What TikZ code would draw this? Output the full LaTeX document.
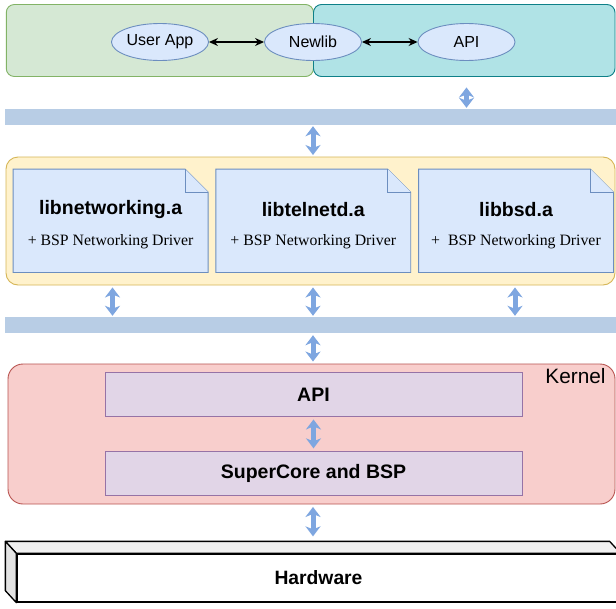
\documentclass[tikz,border=0pt]{standalone}
\usepackage{fontspec}
\setmainfont{Liberation Sans}
\newfontfamily\drvfont{Liberation Serif}
\usetikzlibrary{arrows.meta,shapes.geometric}
\definecolor{grfill}{HTML}{D5E8D4}
\definecolor{grline}{HTML}{82B366}
\definecolor{tlfill}{HTML}{B0E3E6}
\definecolor{tlline}{HTML}{0E8088}
\definecolor{bfill}{HTML}{DAE8FC}
\definecolor{bline}{HTML}{6C8EBF}
\definecolor{barfill}{HTML}{B8CDE5}
\definecolor{arrcol}{HTML}{7EA6E0}
\definecolor{yfill}{HTML}{FFF2CC}
\definecolor{yline}{HTML}{D6B656}
\definecolor{rfill}{HTML}{F8CECC}
\definecolor{rline}{HTML}{B85450}
\definecolor{pfill}{HTML}{E1D5E7}
\definecolor{pline}{HTML}{9673A6}
\tikzset{
  groupbox/.style={draw, rounded corners=8pt, line width=0.9pt, inner sep=0pt},
  ell/.style={ellipse, draw=bline, fill=bfill, line width=0.9pt, minimum width=97pt, minimum height=37pt, inner sep=0pt, font=\fontsize{16}{18}\selectfont},
  blk/.style={{Stealth[length=9pt,width=8pt]}-{Stealth[length=9pt,width=8pt]}, line width=1.1pt, black},
  bararrow/.style={{Stealth[length=10pt,width=15pt,inset=3pt]}-{Stealth[length=10pt,width=15pt,inset=3pt]}, line width=5pt, arrcol},
  busbar/.style={fill=barfill, draw=none, inner sep=0pt, minimum width=616pt},
  notebody/.style={inner sep=0pt, minimum width=194.5pt, minimum height=103pt},
  notepath/.style={draw=bline, fill=bfill, line width=0.9pt},
  libtxt/.style={font=\bfseries\fontsize{19.5}{23}\selectfont, inner sep=0pt},
  drvtxt/.style={font=\drvfont\fontsize{15.8}{18}\selectfont, inner sep=0pt},
  kbox/.style={draw=pline, fill=pfill, line width=0.9pt, minimum width=417pt, minimum height=44pt, inner sep=0pt, font=\bfseries\fontsize{19.5}{23}\selectfont},
}
\begin{document}
\begin{tikzpicture}[x=1pt,y=-1pt]
\clip (0,0) rectangle (616,608);
\fill[white] (0,0) rectangle (616,608);

% top group boxes
\node[groupbox, draw=grline, fill=grfill, minimum width=307.2pt, minimum height=72pt] (gbox) at (159.9,40.5) {};
\node[groupbox, draw=tlline, fill=tlfill, minimum width=301.5pt, minimum height=72pt] (tbox) at (464.25,40.5) {};

\node[ell] (uapp) at (160,42) {User App};
\node[ell] (newlib) at (313,42) {Newlib};
\node[ell] (api) at (466.5,42) {API};
\draw[blk] (uapp) -- (newlib);
\draw[blk] (newlib) -- (api);

% bus bars
\node[busbar, minimum height=15.5pt] (bar1) at (313,116.75) {};
\node[busbar, minimum height=16pt] (bar2) at (313,325) {};

\draw[bararrow] ([yshift=-10.5pt]tbox.south -| api) -- ([yshift=1pt]bar1.north -| api);

% library group
\node[groupbox, draw=yline, fill=yfill, rounded corners=12pt, minimum width=609pt, minimum height=128pt] (ybox) at (310.5,221) {};
\draw[bararrow] ([yshift=-1.5pt]bar1.south -| newlib) -- ([yshift=1.5pt]ybox.north -| newlib);

\foreach \nm/\cx/\lib/\drv in {n1/110.6/libnetworking.a/{+ BSP Networking Driver},
                                n2/313.25/libtelnetd.a/{+ BSP Networking Driver},
                                n3/516/libbsd.a/{+\ \ BSP Networking Driver}}{
  \node[notebody] (\nm) at (\cx,220.8) {};
  \draw[notepath] (\nm.north west) -- ([xshift=-23pt]\nm.north east) -- ([yshift=-23pt]\nm.north east) -- (\nm.south east) -- (\nm.south west) -- cycle;
  \draw[notepath] ([xshift=-23pt]\nm.north east) -- ([xshift=-23pt,yshift=-23pt]\nm.north east) -- ([yshift=-23pt]\nm.north east);
  \node[libtxt] (\nm lib) at (\cx,209.5) {\lib};
  \node[drvtxt] (\nm drv) at (\cx,241.5) {\drv};
}

\coordinate (c1) at (112.5,0);
\coordinate (c3) at (515,0);
\draw[bararrow] ([yshift=-2pt]ybox.south -| c1) -- ([yshift=1pt]bar2.north -| c1);
\draw[bararrow] ([yshift=-2pt]ybox.south -| newlib) -- ([yshift=1pt]bar2.north -| newlib);
\draw[bararrow] ([yshift=-2pt]ybox.south -| c3) -- ([yshift=1pt]bar2.north -| c3);

% kernel
\node[groupbox, draw=rline, fill=rfill, rounded corners=15pt, minimum width=607pt, minimum height=140pt] (kernel) at (311.5,434) {};
\node[font=\fontsize{20.8}{24}\selectfont, inner sep=0pt] (klabel) at (575.5,376) {Kernel};
\draw[bararrow] ([yshift=-2pt]bar2.south -| newlib) -- ([yshift=2pt]kernel.north -| newlib);

\node[kbox] (kapi) at (313.5,394.5) {API};
\node[kbox] (score) at (313.5,473.3) {SuperCore and BSP};
\draw[bararrow] ([yshift=-2.5pt]kapi.south) -- ([yshift=2.5pt]score.north);

% hardware
\node[draw=black, fill=white, line width=1.3pt, minimum width=603pt, minimum height=48pt, inner sep=0pt, font=\bfseries\fontsize{19.3}{22}\selectfont] (hw) at (318.5,578) {Hardware};
\draw[line width=1.3pt, fill=gray!12, line join=round] ([xshift=-11pt,yshift=12pt]hw.north west) -- ([xshift=-11pt,yshift=12pt]hw.north east) -- (hw.north east) -- (hw.north west) -- cycle;
\draw[line width=1.3pt, fill=gray!22, line join=round] ([xshift=-11pt,yshift=12pt]hw.north west) -- (hw.north west) -- (hw.south west) -- ([xshift=-11pt,yshift=12pt]hw.south west) -- cycle;
\draw[bararrow] ([yshift=-2.5pt]kernel.south -| newlib) -- ([yshift=17pt]hw.north -| newlib);
\end{tikzpicture}
\end{document}
